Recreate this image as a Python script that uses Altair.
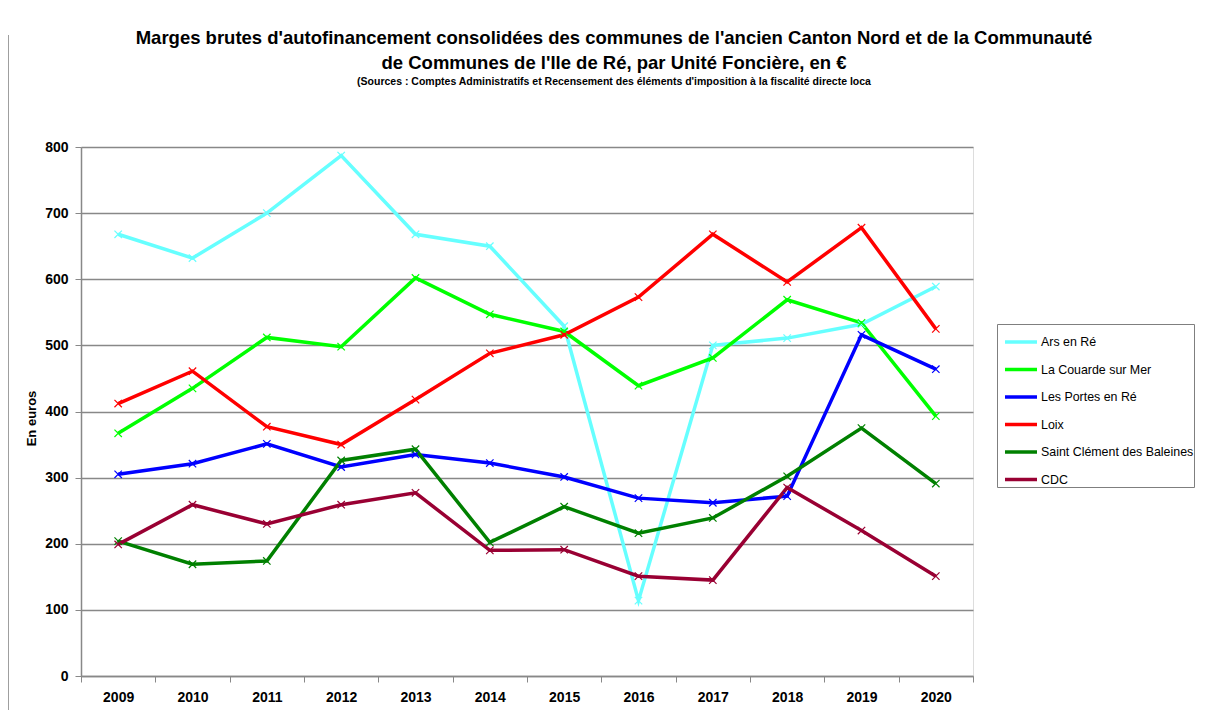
import altair as alt
import pandas as pd

years = [2009, 2010, 2011, 2012, 2013, 2014, 2015, 2016, 2017, 2018, 2019, 2020]

communes = ["Ars en Ré", "La Couarde sur Mer", "Les Portes en Ré", "Loix",
            "Saint Clément des Baleines", "CDC"]
colors = ["#66FFFF", "#00FF00", "#0000FF", "#FF0000", "#008000", "#990033"]

ars = [668, 632, 700, 787, 668, 650, 529, 114, 500, 511, 532, 589]
couarde = [367, 435, 512, 498, 602, 547, 521, 439, 481, 569, 534, 393]
portes = [305, 321, 351, 316, 335, 322, 301, 269, 262, 272, 516, 464]
loix = [412, 461, 377, 350, 418, 488, 516, 573, 668, 596, 678, 525]
clement = [204, 169, 174, 326, 343, 202, 256, 216, 239, 302, 375, 291]
cdc = [199, 259, 230, 259, 277, 190, 191, 151, 145, 285, 220, 151]

series = [ars, couarde, portes, loix, clement, cdc]

rows = []
for name, vals in zip(communes, series):
    for y, v in zip(years, vals):
        rows.append({"annee": str(y), "commune": name, "valeur": v})
df = pd.DataFrame(rows)

FONT = "Liberation Sans"
GRID = "#888888"

x_enc = alt.X(
    "annee:O",
    bandPosition=0.5,
    scale=alt.Scale(type="band", paddingInner=0, paddingOuter=0),
    axis=alt.Axis(title=None, labelAngle=0, tickBand="extent", ticks=True,
                  tickSize=6, tickColor=GRID, domainColor=GRID, domainWidth=1.5,
                  labelFont=FONT, labelFontWeight="bold", labelFontSize=14,
                  labelColor="#000000", labelPadding=8, grid=False),
)
y_enc = alt.Y(
    "valeur:Q",
    scale=alt.Scale(domain=[0, 800], nice=False),
    axis=alt.Axis(title="En euros", values=list(range(0, 801, 100)),
                  grid=True, gridColor=GRID, gridWidth=1.5,
                  tickSize=6, tickColor=GRID, domainColor=GRID, domainWidth=1.5,
                  labelFont=FONT, labelFontWeight="bold", labelFontSize=14,
                  labelColor="#000000", labelPadding=7,
                  titleFont=FONT, titleFontWeight="bold", titleFontSize=13,
                  titleColor="#000000", titleX=-50, titleY=271,
                  titleAngle=270, titleAlign="center", titleBaseline="middle"),
)

lines = alt.Chart(df).mark_line(strokeWidth=3.5).encode(
    x=x_enc,
    y=y_enc,
    color=alt.Color(
        "commune:N",
        sort=communes,
        scale=alt.Scale(domain=communes, range=colors),
        legend=alt.Legend(
            title=None, orient="none", legendX=916, legendY=177,
            symbolType="stroke", symbolStrokeWidth=3.5, symbolSize=1024,
            symbolOffset=6,
            labelFont=FONT, labelFontSize=12.4, labelColor="#000000",
            rowPadding=2.5, padding=0, strokeColor="#7f7f7f",
            labelLimit=300, fillColor="#ffffff", labelOffset=2,
        ),
    ),
    detail="commune:N",
)

points = alt.Chart(df).mark_point(
    shape="M-1,-1L1,1M-1,1L1,-1", filled=False, strokeWidth=1.2, size=55, opacity=1
).encode(
    x=alt.X("annee:O", bandPosition=0.5),
    y=alt.Y("valeur:Q"),
    stroke=alt.Stroke("commune:N", scale=alt.Scale(domain=communes, range=colors), legend=None),
)

border = alt.Chart(pd.DataFrame({"a": [0]})).mark_rule(color="#404040", strokeWidth=1).encode(
    x=alt.value(-73), y=alt.value(-112), y2=alt.value(571)
)

chart = alt.layer(border, lines, points).properties(
    width=892,
    height=529,
    autosize=alt.AutoSizeParams(type="none"),
    padding={"left": 73, "top": 139, "right": 224, "bottom": 34},
    title=alt.TitleParams(
        text=["Marges brutes d'autofinancement consolidées des communes de l'ancien Canton Nord et de la Communauté",
              "de Communes de l'Ile de Ré, par Unité Foncière, en €"],
        subtitle="(Sources : Comptes Administratifs et Recensement des éléments d'imposition à la fiscalité directe loca",
        font=FONT, fontSize=18.5, fontWeight="bold", color="#000000", lineHeight=25,
        subtitleFont=FONT, subtitleFontSize=10.5, subtitleFontWeight="bold",
        subtitleColor="#000000", subtitlePadding=5,
        anchor="middle", frame="group", dx=87, offset=-53,
    ),
).configure_view(stroke=None).configure(background="#ffffff")

chart.save("out.html", embed_options={"renderer": "svg", "actions": False})
